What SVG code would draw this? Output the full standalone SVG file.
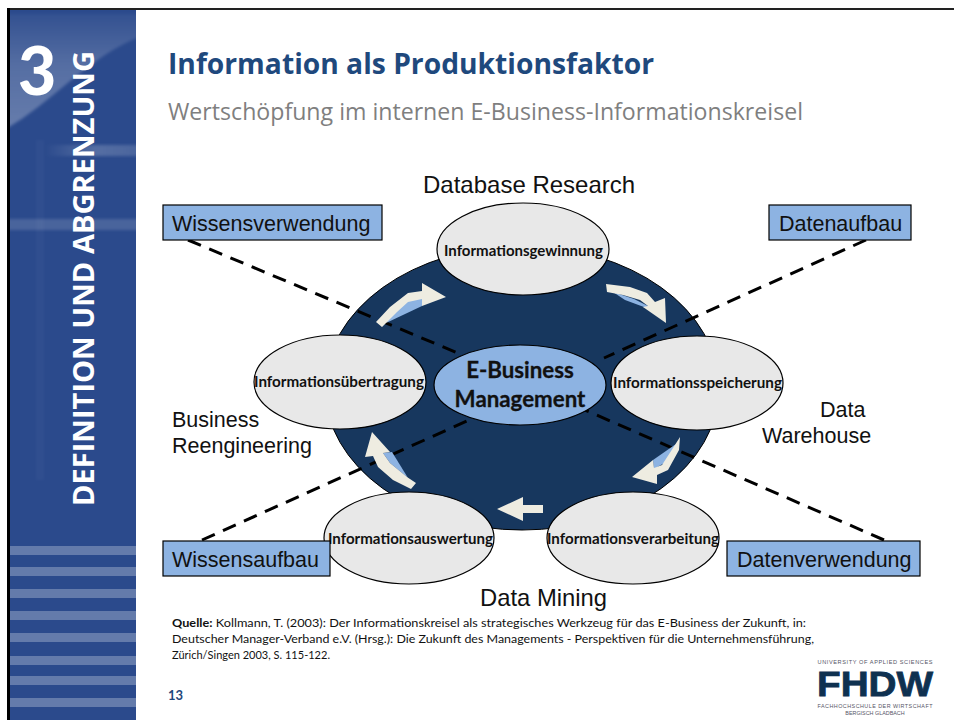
<svg xmlns="http://www.w3.org/2000/svg" width="954" height="720" viewBox="0 0 954 720">
<style>
.e{fill:#e8e8e8;stroke:#000;stroke-width:1.2}
.b{fill:#8db3e2;stroke:#000;stroke-width:1.2}
.lb{font-family:"Lato","Open Sans",sans-serif;font-weight:700;font-size:14.8px;fill:#111;text-anchor:middle}
.ar{font-family:"Liberation Sans",Arial,sans-serif;font-size:21.5px;fill:#111}
.q{font-family:"Lato","Open Sans",sans-serif;font-size:12px;fill:#111}
.c{font-family:"Lato","Open Sans",sans-serif;font-weight:700;font-size:22.3px;fill:#111;text-anchor:middle}
.m{font-family:"Liberation Sans",sans-serif;font-size:5.4px;fill:#556;text-anchor:middle}
.d{stroke:#000;stroke-width:3;stroke-dasharray:14 9;fill:none}
.w{fill:#eeece1}
.l{fill:#8db3e2}
.s{fill:#fff;opacity:.27}
</style>
<defs>
<linearGradient id="g" x1="0" x2="1" y1="0" y2="0"><stop offset="0" stop-color="#fff" stop-opacity="0"/><stop offset=".5" stop-color="#fff" stop-opacity=".2"/><stop offset="1" stop-color="#fff" stop-opacity=".14"/></linearGradient>
<linearGradient id="sw" x1="0" x2="0" y1="0" y2="1"><stop offset="0" stop-color="#fff" stop-opacity=".04"/><stop offset=".45" stop-color="#fff" stop-opacity=".2"/><stop offset="1" stop-color="#fff" stop-opacity=".28"/></linearGradient>
<filter id="bl"><feGaussianBlur stdDeviation="1.5"/></filter>
<clipPath id="cp"><rect x="10" y="10" width="126" height="710"/></clipPath>
</defs>
<rect width="954" height="720" fill="#fff"/>
<g id="sidebar">
<rect x="7" y="8" width="947" height="2" fill="#222"/>
<rect x="7" y="8" width="3" height="712" fill="#000"/>
<rect x="10" y="10" width="126" height="710" fill="#2b4a8c"/>
<g clip-path="url(#cp)">
<path d="M4 14H142V36C90 55 50 105 4 130Z" fill="url(#sw)" filter="url(#bl)"/>
<rect x="45" y="145" width="100" height="11" fill="url(#g)" filter="url(#bl)"/>
<rect x="4" y="219" width="140" height="11" fill="#fff" opacity=".14" filter="url(#bl)"/>
<rect x="36" y="140" width="8" height="340" fill="#fff" opacity=".025" filter="url(#bl)"/>
</g>
<rect class="s" x="10" y="546" width="126" height="9"/>
<rect class="s" x="10" y="567" width="126" height="9"/>
<rect class="s" x="10" y="589" width="126" height="9"/>
<rect class="s" x="10" y="611" width="126" height="9"/>
<rect class="s" x="10" y="633" width="126" height="9"/>
<rect class="s" x="10" y="656" width="126" height="9"/>
<rect class="s" x="10" y="676" width="126" height="9"/>
<rect class="s" x="10" y="698" width="126" height="9"/>
<text x="18" y="95" font-family="Lato,'Open Sans',sans-serif" font-weight="900" font-size="66" fill="#fff">3</text>
<text transform="translate(94,506) rotate(-90)" font-family="'Open Sans',Lato,sans-serif" font-weight="700" font-size="29" fill="#fff" textLength="455" lengthAdjust="spacingAndGlyphs">DEFINITION UND ABGRENZUNG</text>
</g>
<g id="title">
<text x="168" y="74" font-family="'Open Sans',Lato,sans-serif" font-weight="700" font-size="29" fill="#1f497d" textLength="486" lengthAdjust="spacingAndGlyphs">Information als Produktionsfaktor</text>
<text x="168" y="120" font-family="'Open Sans',Lato,sans-serif" font-size="23" fill="#7f7f7f" textLength="635" lengthAdjust="spacingAndGlyphs">Wertschöpfung im internen E-Business-Informationskreisel</text>
</g>
<g id="hub-background"><ellipse cx="522" cy="388" rx="197" ry="142" fill="#17375e" stroke="#000"/></g>
<g id="connectors">
<path class="d" d="M188 240L460 354"/>
<path class="d" d="M866 240L604 358"/>
<path class="d" d="M202 540L478 416"/>
<path class="d" d="M884 540L585 410"/>
</g>
<g id="arrows">
<path class="l" d="M386 323L422 306V297L400 302Z"/>
<path class="w" d="M376 322L390 307L408 293L422 291V283L446 297L422 306V299L408 302L397 312L382 327Z"/>
<path class="l" d="M613 292L634 299L650 307L643 307L652 310L625 300Z"/>
<path class="w" d="M606 284L630 287L647 293L655 302L665 298L666 323L643 307L648 306L640 300L623 295L607 292Z"/>
<path class="l" d="M676 444L653 460L654 469L666 462Z"/>
<path class="w" d="M680 437L679 450L668 470L657 475V484L632 477L653 460L654 468L662 465L673 448Z"/>
<path class="l" d="M383 453L392 452L408 478L390 463Z"/>
<path class="w" d="M372 432L390 452L383 453L390 463L407 477L416 483L411 489L393 480L378 467L373 456L365 457Z"/>
<path class="w" d="M497 509L523 497V505H543V513H523V521Z"/>
</g>
<g id="center"><ellipse class="b" cx="520" cy="385" rx="86" ry="40"/>
<text class="c" x="520" y="378" stroke="#111" stroke-width=".3">E-Business</text>
<text class="c" x="520" y="407" stroke="#111" stroke-width=".3">Management</text></g>
<g id="n1"><ellipse class="e" cx="523" cy="249" rx="86" ry="46"/><text class="lb" x="523.5" y="256" textLength="159" lengthAdjust="spacingAndGlyphs">Informationsgewinnung</text></g>
<g id="n2"><ellipse class="e" cx="697" cy="383" rx="86" ry="47"/><text class="lb" x="697.5" y="388" textLength="169" lengthAdjust="spacingAndGlyphs">Informationsspeicherung</text></g>
<g id="n3"><ellipse class="e" cx="633" cy="538" rx="86" ry="46"/><text class="lb" x="633" y="544" textLength="172" lengthAdjust="spacingAndGlyphs">Informationsverarbeitung</text></g>
<g id="n4"><ellipse class="e" cx="409" cy="538" rx="85" ry="46"/><text class="lb" x="410.5" y="544" textLength="165" lengthAdjust="spacingAndGlyphs">Informationsauswertung</text></g>
<g id="n5"><ellipse class="e" cx="340" cy="382" rx="86" ry="47"/><text class="lb" x="339" y="387" textLength="170" lengthAdjust="spacingAndGlyphs">Informationsübertragung</text></g>
<g id="b1"><rect class="b" x="163" y="205" width="219" height="35"/><text class="ar" x="172" y="231">Wissensverwendung</text></g>
<g id="b2"><rect class="b" x="769" y="205" width="142" height="35"/><text class="ar" x="779" y="231">Datenaufbau</text></g>
<g id="b3"><rect class="b" x="163" y="541" width="167" height="35"/><text class="ar" x="172" y="567">Wissensaufbau</text></g>
<g id="b4"><rect class="b" x="727" y="541" width="193" height="35"/><text class="ar" x="737" y="567">Datenverwendung</text></g>
<g id="labels">
<text class="ar" x="423" y="193" style="font-size:24px">Database Research</text>
<text class="ar" x="172" y="427">Business</text>
<text class="ar" x="172" y="453">Reengineering</text>
<text class="ar" x="820" y="417">Data</text>
<text class="ar" x="762" y="443">Warehouse</text>
<text class="ar" x="480" y="606" style="font-size:23.8px">Data Mining</text>
</g>
<g id="source">
<text class="q" x="172" y="627" textLength="634" lengthAdjust="spacingAndGlyphs"><tspan font-weight="700">Quelle:</tspan> Kollmann, T. (2003): Der Informationskreisel als strategisches Werkzeug für das E-Business der Zukunft, in:</text>
<text class="q" x="172" y="643" textLength="642" lengthAdjust="spacingAndGlyphs">Deutscher Manager-Verband e.V. (Hrsg.): Die Zukunft des Managements - Perspektiven für die Unternehmensführung,</text>
<text class="q" x="172" y="659" textLength="158" lengthAdjust="spacingAndGlyphs">Zürich/Singen 2003, S. 115-122.</text>
<text x="168" y="700" font-family="Lato,'Open Sans',sans-serif" font-weight="700" font-size="13" fill="#1f497d">13</text>
</g>
<g id="logo">
<text class="m" x="875" y="664" textLength="115" style="font-size:5.6px">UNIVERSITY OF APPLIED SCIENCES</text>
<text x="817" y="696" font-family="'Liberation Sans',sans-serif" font-weight="700" font-size="35" fill="#0f3150" stroke="#0f3150" stroke-width=".8" textLength="116" lengthAdjust="spacingAndGlyphs">FHDW</text>
<text class="m" x="875" y="707.5" textLength="115">FACHHOCHSCHULE DER WIRTSCHAFT</text>
<text class="m" x="875" y="714.5">BERGISCH GLADBACH</text>
</g>
</svg>
